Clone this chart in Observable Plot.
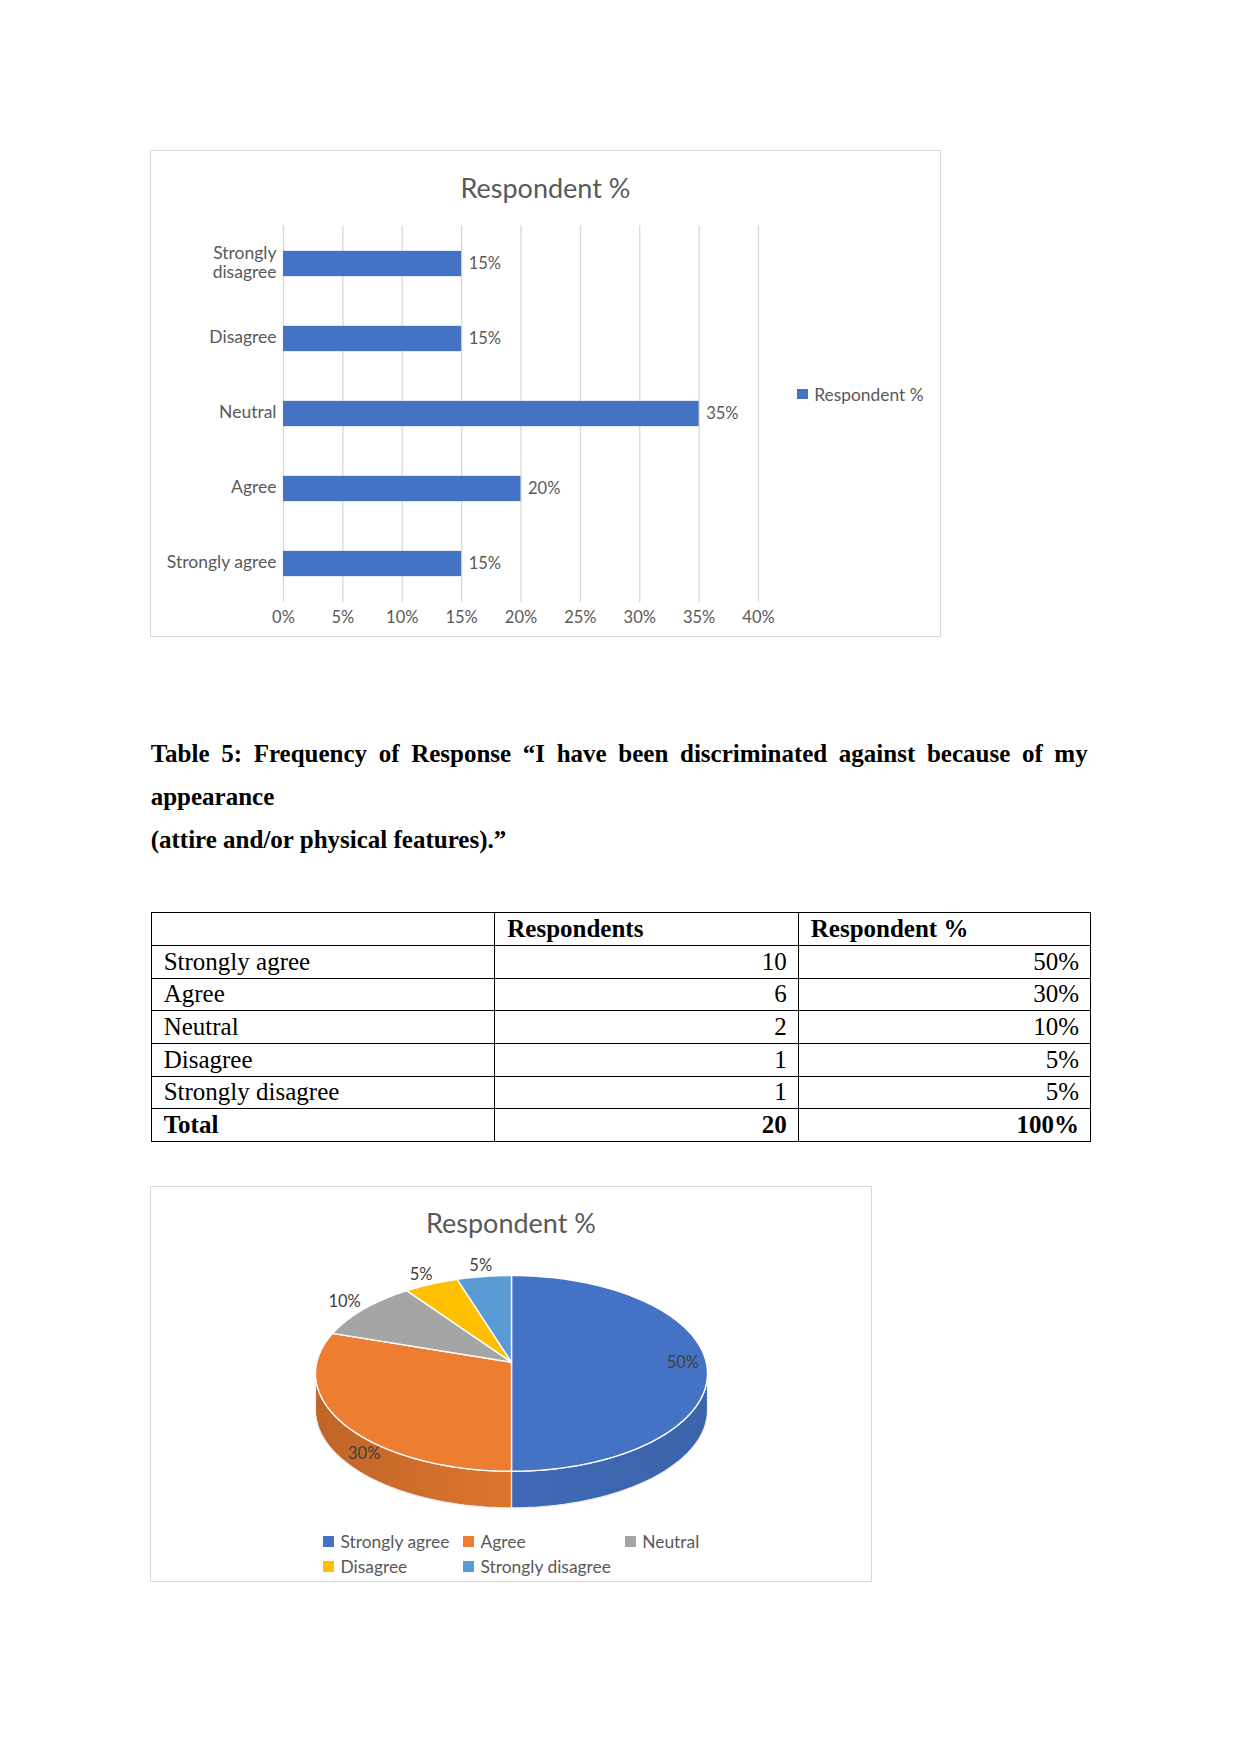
<!DOCTYPE html>
<html>
<head>
<meta charset="utf-8">
<script src="https://cdn.jsdelivr.net/npm/d3@7"></script>
<script src="https://cdn.jsdelivr.net/npm/@observablehq/plot@0.6"></script>
<style>
html, body { margin:0; padding:0; background:#fff; }
#page { position:relative; width:1241px; height:1754px; background:#fff; overflow:hidden; }
.frame { position:absolute; background:#fff; outline:1px solid #d9d9d9; outline-offset:-1px; }
.frame svg { position:absolute; left:0; top:0; }
.ctitle { position:absolute; left:0; width:100%; text-align:center; font-family:Lato, sans-serif; font-size:27px; line-height:27px; color:#595959; white-space:nowrap; }
.leg { position:absolute; display:flex; align-items:center; height:17px; font-family:Lato, sans-serif; font-size:17.4px; line-height:17px; color:#595959; white-space:nowrap; }
.leg .sw { width:10.5px; height:10.5px; margin-right:6.7px; flex:none; }
#heading { position:absolute; left:150.7px; top:732.4px; width:937px; font-family:"Liberation Serif", "Times New Roman", serif; font-weight:bold; font-size:25px; line-height:43px; color:#000; }
#heading .l1 { text-align:justify; text-align-last:justify; }
#tbl { position:absolute; left:150.7px; top:912.2px; border-collapse:collapse; table-layout:fixed; font-family:"Liberation Serif", "Times New Roman", serif; font-size:25px; color:#000; }
#tbl td { border:1px solid #000; padding:0 11px 0 12px; line-height:28px; vertical-align:middle; white-space:nowrap; }
#tbl tr { height:32.7px; }
#tbl td.num { text-align:right; }
#tbl tr.bold td { font-weight:bold; }
</style>
</head>
<body>
<svg width="0" height="0" style="position:absolute"><defs id="gradDefs"></defs></svg>
<div id="page"></div>
<script>
// ---------------- data ----------------
const chartTitle = "Respondent %";
const barCategories = ["Strongly disagree", "Disagree", "Neutral", "Agree", "Strongly agree"];
const barValues = [0.15, 0.15, 0.35, 0.20, 0.15];
const xTickValues = [0, 0.05, 0.10, 0.15, 0.20, 0.25, 0.30, 0.35, 0.40];

const headingLines = [
  "Table 5: Frequency of Response \u201CI have been discriminated against because of my",
  "appearance",
  "(attire and/or physical features).\u201D"
];
const tableHeaders = ["", "Respondents", "Respondent %"];
const tableCategories = ["Strongly agree", "Agree", "Neutral", "Disagree", "Strongly disagree"];
const tableCounts = [10, 6, 2, 1, 1];
const tablePercents = [0.50, 0.30, 0.10, 0.05, 0.05];

const pieCategories = ["Strongly agree", "Agree", "Neutral", "Disagree", "Strongly disagree"];
const pieValues = [0.50, 0.30, 0.10, 0.05, 0.05];
const pieColors = ["#4472C4", "#ED7D31", "#A5A5A5", "#FFC000", "#5B9BD5"];

// ---------------- helpers ----------------
const pct = d => Math.round(d * 100) + "%";
const page = document.getElementById("page");
function el(tag, cls, parent) { const e = document.createElement(tag); if (cls) e.className = cls; parent.appendChild(e); return e; }

// ---------------- bar chart ----------------
const barFrame = el("div", "frame", page);
Object.assign(barFrame.style, {left: "150px", top: "150px", width: "791px", height: "487px"});
const barData = barCategories.map((category, i) => ({category, value: barValues[i]}));
const wrapLabel = s => s.length > 15 ? s.replace(" ", "\n") : s;
const barPlot = Plot.plot({
  width: 791, height: 487,
  marginLeft: 133, marginRight: 183, marginTop: 75.3, marginBottom: 35,
  style: {fontFamily: "Lato, sans-serif", fontSize: "16.5px", color: "#595959", background: "transparent"},
  x: {domain: [0, 0.4]},
  y: {domain: barCategories, padding: 0},
  marks: [
    Plot.gridX(xTickValues, {stroke: "#d9d9d9", strokeOpacity: 1, strokeWidth: 1.3}),
    Plot.barX(barData, {x: "value", y: "category", fill: "#4472C4", insetTop: 24.85, insetBottom: 24.85}),
    Plot.text(barData, {x: "value", y: "category", text: d => pct(d.value), textAnchor: "start", dx: 7, fill: "#595959", fontSize: 16.5}),
    Plot.axisX(xTickValues, {tickSize: 0, tickPadding: 9, tickFormat: pct, label: null, fontSize: 16.5}),
    Plot.axisY({tickSize: 0, tickPadding: 7, tickFormat: wrapLabel, label: null, fontSize: 17.5, lineHeight: 1.06, dy: -1.5})
  ]
});
barFrame.appendChild(barPlot);
const barTitle = el("div", "ctitle", barFrame);
barTitle.textContent = chartTitle;
barTitle.style.top = "24px";
const barLeg = el("div", "leg", barFrame);
Object.assign(barLeg.style, {left: "647px", top: "235.5px"});
const barSw = el("span", "sw", barLeg); barSw.style.background = "#4472C4";
el("span", "", barLeg).textContent = chartTitle;

// ---------------- heading ----------------
const heading = el("div", "", page);
heading.id = "heading";
headingLines.forEach((line, i) => { const d = el("div", i === 0 ? "l1" : "", heading); d.textContent = line; });

// ---------------- table ----------------
const tbl = el("table", "", page);
tbl.id = "tbl";
const cg = el("colgroup", "", tbl);
[343.6, 303.5, 292.2].forEach(w => { const c = el("col", "", cg); c.style.width = w + "px"; });
const tb = el("tbody", "", tbl);
const hr = el("tr", "bold", tb);
tableHeaders.forEach(h => { el("td", "", hr).textContent = h; });
tableCategories.forEach((c, i) => {
  const tr = el("tr", "", tb);
  el("td", "", tr).textContent = c;
  el("td", "num", tr).textContent = tableCounts[i];
  el("td", "num", tr).textContent = pct(tablePercents[i]);
});
const tot = el("tr", "bold", tb);
el("td", "", tot).textContent = "Total";
el("td", "num", tot).textContent = d3.sum(tableCounts);
el("td", "num", tot).textContent = pct(d3.sum(tablePercents));

// ---------------- 3D pie chart ----------------
const pieFrame = el("div", "frame", page);
Object.assign(pieFrame.style, {left: "150px", top: "1186px", width: "722px", height: "396px"});
const W = 722, H = 396;
const geo = {cx: 361, cy: 186.9, rx: 196, ry: 97.9, t: 0.114, depth: 36.6};
function proj(r, a, dz = 0) {
  const u = r * Math.sin(a), v = r * Math.cos(a), den = 1 + geo.t * v;
  return {x: geo.cx + geo.rx * u * Math.sqrt(1 - geo.t * geo.t) / den, y: geo.cy - geo.ry * (v + geo.t) / den + dz};
}
const arcs = d3.pie().sort(null).value(d => d)(pieValues);
const degStep = Math.PI / 180;
function rimPts(a0, a1, dz) {
  const n = Math.max(2, Math.ceil((a1 - a0) / degStep));
  return d3.range(n + 1).map(k => proj(1, a0 + (a1 - a0) * k / n, dz));
}
// gradients for the side walls
const defs = d3.select("#gradDefs");
pieColors.forEach((c, i) => {
  const a = arcs[i], mid = (a.startAngle + a.endAngle) / 2;
  const left = Math.sin(mid) < 0;
  const g = defs.append("linearGradient").attr("id", "wall" + i).attr("x1", 0).attr("x2", 1).attr("y1", 0).attr("y2", 0);
  g.append("stop").attr("offset", 0).attr("stop-color", d3.color(c).darker(left ? 0.6 : 0.22).formatHex());
  g.append("stop").attr("offset", 1).attr("stop-color", d3.color(c).darker(left ? 0.18 : 0.38).formatHex());
});
const wallStart = Math.acos(-geo.t), wallEnd = 2 * Math.PI - wallStart;
const wallPts = [], topPts = [];
arcs.forEach((a, i) => {
  const s = Math.max(a.startAngle, wallStart), e = Math.min(a.endAngle, wallEnd);
  if (e > s) {
    const top = rimPts(s, e, 0), bot = rimPts(s, e, geo.depth).reverse();
    top.concat(bot).forEach(p => wallPts.push({...p, id: i, fill: "url(#wall" + i + ")"}));
  }
  [proj(0, 0)].concat(rimPts(a.startAngle, a.endAngle, 0)).forEach(p => topPts.push({...p, id: i, fill: pieColors[i]}));
});
const labelData = arcs.map(a => {
  const mid = (a.startAngle + a.endAngle) / 2;
  const inside = a.data >= 0.2;
  const p = inside ? proj(0.88, mid, geo.depth * Math.max(0, -Math.cos(mid)) * 1.8) : proj(1.14, mid);
  return {...p, text: pct(a.data)};
});
const piePlot = Plot.plot({
  width: W, height: H, margin: 0,
  x: {domain: [0, W], range: [0, W], axis: null},
  y: {domain: [0, H], range: [0, H], axis: null},
  color: {type: "identity"},
  style: {background: "transparent", fontFamily: "Lato, sans-serif"},
  marks: [
    Plot.line(wallPts, {x: "x", y: "y", z: "id", fill: "fill", stroke: "#eeeeee", strokeWidth: 1.2, curve: "linear-closed"}),
    Plot.line(topPts, {x: "x", y: "y", z: "id", fill: "fill", stroke: "#ffffff", strokeWidth: 1.4, strokeLinejoin: "round", curve: "linear-closed"}),
    Plot.text(labelData, {x: "x", y: "y", text: "text", fill: "#404040", fontSize: 16.5})
  ]
});
pieFrame.appendChild(piePlot);
const pieTitle = el("div", "ctitle", pieFrame);
pieTitle.textContent = chartTitle;
pieTitle.style.top = "22.5px";
const legCols = [173.3, 313.3, 475], legRows = [346.8, 372.2];
pieCategories.forEach((c, i) => {
  const item = el("div", "leg", pieFrame);
  item.style.left = legCols[i % 3] + "px";
  item.style.top = legRows[Math.floor(i / 3)] + "px";
  const sw = el("span", "sw", item); sw.style.background = pieColors[i];
  el("span", "", item).textContent = c;
});
</script>
</body>
</html>
